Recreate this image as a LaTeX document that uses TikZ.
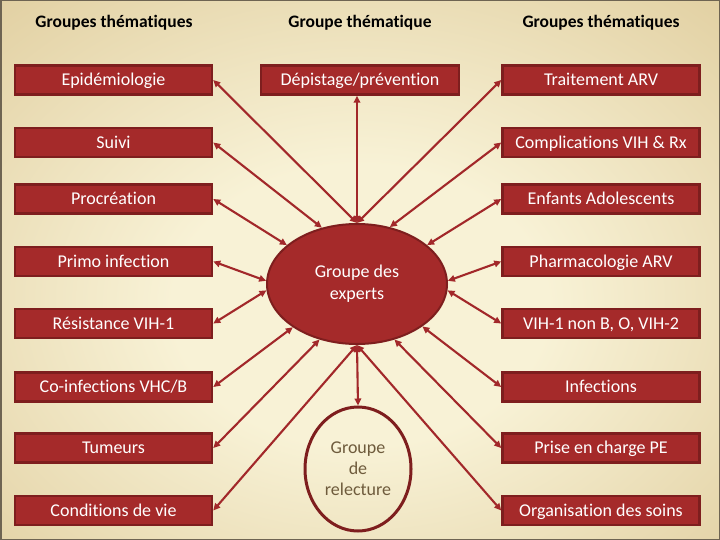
\documentclass[tikz,border=0pt]{standalone}
\usepackage{fontspec}
\setmainfont{Carlito}[Ligatures=NoCommon,RawFeature={-liga;-clig;-calt}]
\usetikzlibrary{arrows.meta,shapes.geometric}
\definecolor{boxred}{HTML}{A52A2A}
\definecolor{boxedge}{HTML}{7E1E1E}
\definecolor{arrowred}{HTML}{A2282A}
\definecolor{bgA}{HTML}{F8F2D6}
\definecolor{bgB}{HTML}{DFCC9C}
\definecolor{bgC}{HTML}{B99C6A}
\definecolor{relect}{HTML}{6E5B3C}
\definecolor{frame}{HTML}{6E6452}
\pgfdeclareradialshading{bgshade}{\pgfpoint{0bp}{-4bp}}{color(0bp)=(bgA); color(13bp)=(bgA); color(40bp)=(bgB); color(74bp)=(bgC)}
\begin{document}
\begin{tikzpicture}[x=1pt,y=-1pt,
  box/.style={draw=boxedge, line width=2.5pt, fill=boxred, text=white,
    minimum width=197pt, minimum height=29pt, inner sep=0pt,
    text height=14.5pt, text depth=3pt,
    font=\fontsize{18}{20}\selectfont},
  head/.style={font=\bfseries\fontsize{17.5}{20}\selectfont, text=black},
  link/.style={draw=arrowred, line width=2.1pt,
    {Triangle[length=7pt,width=6.5pt]}-{Triangle[length=7pt,width=6.5pt]}}
]
\useasboundingbox (0,0) rectangle (720,540);
\shade[shading=bgshade] (0,0) rectangle (720,540);
\draw[frame, line width=1.5pt] (0.75,0.75) rectangle (719.25,539.25);

% headers
\node[head] (h1) at (114,23) {Groupes thémat\kern0pt iques};
\node[head] (h2) at (360,23) {Groupe thémat\kern0pt ique};
\node[head] (h3) at (601,23) {Groupes thémat\kern0pt iques};

% left column
\node[box] (epi)  at (113.5,80)    {Epidémiologie};
\node[box] (sui)  at (113.5,142.5) {Suivi};
\node[box] (pro)  at (113.5,199)   {Procréation};
\node[box] (pri)  at (113.5,261.5) {Primo infection};
\node[box] (res)  at (113.5,323.5) {Résistance VIH-1};
\node[box] (coi)  at (113.5,387)   {Co-infections VHC/B};
\node[box] (tum)  at (113.5,448)   {Tumeurs};
\node[box] (con)  at (113.5,510.5) {Conditions de vie};

% middle
\node[box, minimum width=198pt] (dep) at (360,80) {Dépistage/prévention};

% right column
\node[box] (arv)  at (601,80)    {Traitement ARV};
\node[box] (cpl)  at (601,142.5) {Complications VIH \& Rx};
\node[box] (enf)  at (601,199)   {Enfants Adolescents};
\node[box] (pha)  at (601,261.5) {Pharmacologie ARV};
\node[box] (vih)  at (601,323.5) {VIH-1 non B, O, VIH-2};
\node[box] (inf)  at (601,387)   {Infections};
\node[box] (pec)  at (601,448)   {Prise en charge PE};
\node[box] (org)  at (601,510.5) {Organisation des soins};

% ellipses
\node[ellipse, draw=boxedge, line width=2pt, fill=boxred, text=white,
      minimum width=180pt, minimum height=120pt, inner sep=0pt, align=center,
      font=\fontsize{18}{22}\selectfont] (ex) at (357,284) {Groupe des\\experts};
\node[ellipse, draw=boxedge, line width=3pt, text=relect,
      minimum width=106pt, minimum height=124pt, inner sep=0pt, align=center,
      font=\fontsize{18}{21}\selectfont] (rel) at (358,469) {Groupe\\de\\relecture};

% connectors
\draw[link] (ex.90)  -- (epi.east);
\draw[link] (ex.122) -- (sui.east);
\draw[link] (ex.151) -- (pro.east);
\draw[link] (ex.178) -- (pri.east);
\draw[link] (ex.184) -- (res.east);
\draw[link] (ex.214) -- (coi.east);
\draw[link] (ex.236) -- (tum.east);
\draw[link] (ex.270) -- (con.east);

\draw[link] (ex.90)  -- (arv.west);
\draw[link] (ex.60)  -- (cpl.west);
\draw[link] (ex.29)  -- (enf.west);
\draw[link] (ex.2)   -- (pha.west);
\draw[link] (ex.356) -- (vih.west);
\draw[link] (ex.327) -- (inf.west);
\draw[link] (ex.304) -- (pec.west);
\draw[link] (ex.270) -- (org.west);

\draw[link] (ex.north) -- (ex.north |- dep.south);
\draw[link] (ex.south) -- (rel.north);
\end{tikzpicture}
\end{document}
